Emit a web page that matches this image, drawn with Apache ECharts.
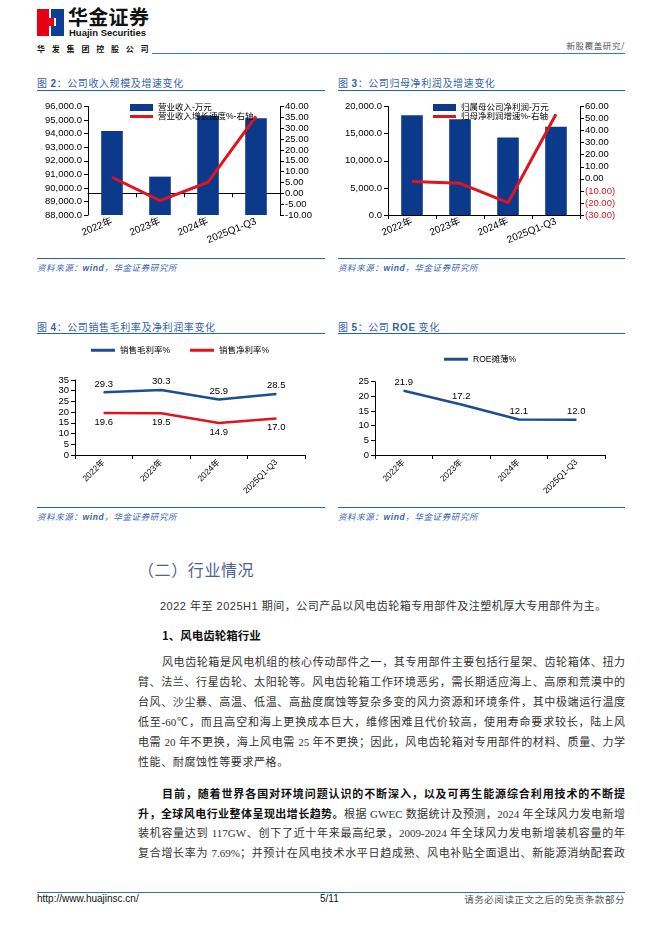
<!DOCTYPE html>
<html><head><meta charset="utf-8">
<script src="https://cdn.jsdelivr.net/npm/echarts@6/dist/echarts.min.js"></script>
<style>
body{margin:0;background:#fff;}
#page{position:relative;width:662px;height:936px;overflow:hidden;background:#fff;font-family:"Liberation Sans","Noto Sans CJK SC",sans-serif;}
.abs{position:absolute;white-space:nowrap;}
.ctitle{position:absolute;font-size:10px;line-height:12px;color:#3563a8;white-space:nowrap;font-family:"Noto Sans CJK SC",sans-serif;letter-spacing:0.6px;}
.ctitle b{font-family:"Liberation Sans",sans-serif;font-weight:bold;}
.rule{position:absolute;height:0;border-top:1px solid #2463ad;}
.src{position:absolute;font-size:8.5px;line-height:10px;color:#3b64b0;font-style:italic;white-space:nowrap;letter-spacing:0.6px;font-family:"Noto Sans CJK SC",sans-serif;}
.src i{font-family:"Liberation Sans",sans-serif;font-weight:bold;}
.ln{position:absolute;left:138px;width:487px;font-size:11px;line-height:14px;color:#333;font-family:"Liberation Serif","Noto Sans CJK SC",serif;}
.j{text-align:justify;text-align-last:justify;}
.b{font-weight:bold;color:#111;font-family:"Noto Sans CJK SC",sans-serif;}
.chart{position:absolute;}
</style></head>
<body>
<div id="page">
  <!-- header -->
  <svg class="abs" style="left:37px;top:9px" width="27" height="27" viewBox="0 0 27 27">
    <rect x="0" y="0" width="12" height="27" fill="#e60012"/>
    <rect x="14" y="0" width="13" height="27" fill="#0b3f94"/>
    <rect x="12" y="9" width="5" height="8" fill="#e60012"/>
    <rect x="17" y="9" width="2" height="8" fill="#ffffff"/>
  </svg>
  <div class="abs" style="left:68px;top:6px;font:bold 20px/22px 'Noto Sans CJK SC',sans-serif;color:#111;letter-spacing:0.3px">华金证券</div>
  <div class="abs" style="left:69px;top:28px;font:bold 9.5px/10px 'Liberation Sans',sans-serif;color:#111">Huajin Securities</div>
  <div class="abs" style="left:37px;top:44px;font:bold 8px/10px 'Noto Sans CJK SC',sans-serif;color:#111;letter-spacing:6.8px">华发集团控股公司</div>
  <div class="abs" style="right:37px;top:40px;font:8.5px/10px 'Noto Sans CJK SC',sans-serif;color:#555;letter-spacing:0.6px">新股覆盖研究/</div>
  <div class="rule" style="left:152px;top:53px;width:473px;border-top-color:#3a78b8"></div>

  <!-- chart titles row 1 -->
  <div class="ctitle" style="left:37px;top:77px">图 <b>2</b>：公司收入规模及增速变化</div>
  <div class="rule" style="left:37px;top:90px;width:288px"></div>
  <div class="ctitle" style="left:338px;top:77px">图 <b>3</b>：公司归母净利润及增速变化</div>
  <div class="rule" style="left:338px;top:90px;width:287px"></div>
  <div id="c1" class="chart" style="left:30px;top:92px;width:300px;height:165px"></div>
  <div id="c2" class="chart" style="left:330px;top:92px;width:300px;height:165px"></div>
  <div class="rule" style="left:37px;top:258px;width:288px"></div>
  <div class="src" style="left:37px;top:262px">资料来源：<i>wind</i>，华金证券研究所</div>
  <div class="rule" style="left:338px;top:258px;width:287px"></div>
  <div class="src" style="left:338px;top:262px">资料来源：<i>wind</i>，华金证券研究所</div>

  <!-- chart titles row 2 -->
  <div class="ctitle" style="left:37px;top:321px">图 <b>4</b>：公司销售毛利率及净利润率变化</div>
  <div class="rule" style="left:37px;top:333px;width:288px"></div>
  <div class="ctitle" style="left:338px;top:321px">图 <b>5</b>：公司 <b>ROE</b> 变化</div>
  <div class="rule" style="left:338px;top:333px;width:287px"></div>
  <div id="c3" class="chart" style="left:30px;top:337px;width:300px;height:170px"></div>
  <div id="c4" class="chart" style="left:330px;top:337px;width:300px;height:170px"></div>
  <div class="rule" style="left:37px;top:507px;width:288px"></div>
  <div class="src" style="left:37px;top:511px">资料来源：<i>wind</i>，华金证券研究所</div>
  <div class="rule" style="left:338px;top:507px;width:287px"></div>
  <div class="src" style="left:338px;top:511px">资料来源：<i>wind</i>，华金证券研究所</div>

  <!-- body text -->
  <div class="abs" style="left:138px;top:559px;font:16px/20px 'Noto Sans CJK SC',sans-serif;color:#4e6195;letter-spacing:0.6px">（二）行业情况</div>
  <div class="ln" style="left:160px;top:599px;width:460px;font-family:'Liberation Sans','Noto Sans CJK SC',sans-serif;letter-spacing:0.5px">2022 年至 2025H1 期间，公司产品以风电齿轮箱专用部件及注塑机厚大专用部件为主。</div>
  <div class="ln b" style="left:162px;top:628px;font-size:11.5px">1、风电齿轮箱行业</div>

  <div class="ln j" style="top:655px;text-indent:24px">风电齿轮箱是风电机组的核心传动部件之一，其专用部件主要包括行星架、齿轮箱体、扭力</div>
  <div class="ln j" style="top:675px">臂、法兰、行星齿轮、太阳轮等。风电齿轮箱工作环境恶劣，需长期适应海上、高原和荒漠中的</div>
  <div class="ln j" style="top:695px">台风、沙尘暴、高温、低温、高盐度腐蚀等复杂多变的风力资源和环境条件，其中极端运行温度</div>
  <div class="ln j" style="top:715px">低至-60℃，而且高空和海上更换成本巨大，维修困难且代价较高，使用寿命要求较长，陆上风</div>
  <div class="ln j" style="top:735px">电需 20 年不更换，海上风电需 25 年不更换；因此，风电齿轮箱对专用部件的材料、质量、力学</div>
  <div class="ln" style="top:755px;letter-spacing:0.6px">性能、耐腐蚀性等要求严格。</div>

  <div class="ln j b" style="top:786px;text-indent:24px">目前，随着世界各国对环境问题认识的不断深入，以及可再生能源综合利用技术的不断提</div>
  <div class="ln j" style="top:806px"><span class="b">升，全球风电行业整体呈现出增长趋势。</span>根据 GWEC 数据统计及预测，2024 年全球风力发电新增</div>
  <div class="ln j" style="top:826px">装机容量达到 117GW、创下了近十年来最高纪录，2009-2024 年全球风力发电新增装机容量的年</div>
  <div class="ln j" style="top:846px">复合增长率为 7.69%；并预计在风电技术水平日趋成熟、风电补贴全面退出、新能源消纳配套政</div>

  <!-- footer -->
  <div class="rule" style="left:37px;top:892px;width:588px;border-top-color:#2a6fb0"></div>
  <div class="abs" style="left:37px;top:893px;font:10px/12px 'Liberation Sans',sans-serif;color:#111">http://www.huajinsc.cn/</div>
  <div class="abs" style="left:320px;top:893px;font:10px/12px 'Liberation Sans',sans-serif;color:#111">5/11</div>
  <div class="abs" style="right:37px;top:893px;font:9.5px/12px 'Noto Sans CJK SC',sans-serif;color:#555;letter-spacing:0.55px">请务必阅读正文之后的免责条款部分</div>
</div>

<script>
// ---------------- data ----------------
const categories = ['2022年', '2023年', '2024年', '2025Q1-Q3'];
const revenue = [94200, 90830, 95310, 95140];          // 营业收入-万元
const revenueGrowth = [7.4, -3.4, 5.1, 35.4];          // 营业收入增长速度%
const netProfit = [18400, 17660, 14280, 16250];        // 归属母公司净利润-万元
const netProfitGrowth = [-2.3, -3.7, -19.8, 53.6];     // 归母净利润增速%
const grossMargin = [29.3, 30.3, 25.9, 28.5];          // 销售毛利率%
const netMargin = [19.6, 19.5, 14.9, 17.0];            // 销售净利率%
const roe = [21.9, 17.2, 12.1, 12.0];                  // ROE摊薄%

const FONT = "'Liberation Sans','Noto Sans CJK SC',sans-serif";
const BLUE_BAR = '#0b3a8c';
const RED = '#e0141e';
const BLUE_LINE = '#1f4e8c';

const axisLine = { show: true, lineStyle: { color: '#000', width: 1 } };
const axisTick = { show: true, length: 4, lineStyle: { color: '#000', width: 1 } };

function fmtThousands(v) {
  return v.toLocaleString('en-US', { minimumFractionDigits: 1, maximumFractionDigits: 1 });
}

function barLineOption(cfg) {
  return {
    animation: false,
    textStyle: { fontFamily: FONT },
    grid: { left: 58, top: 14.5, width: 192, height: 108.5 },
    legend: [
      { data: [cfg.barName], left: cfg.legendLeft, top: 5, orient: 'vertical', icon: 'rect',
        itemWidth: 23, itemHeight: 7, textStyle: { fontSize: 8.5, lineHeight: 11, color: '#000', fontFamily: FONT } },
      { data: [cfg.lineName], left: cfg.legendLeft, top: 14, orient: 'vertical', icon: 'rect',
        itemWidth: 23, itemHeight: 3, textStyle: { fontSize: 8.5, lineHeight: 11, color: '#000', fontFamily: FONT } }
    ],
    xAxis: {
      type: 'category', data: categories,
      axisLine: axisLine, axisTick: axisTick,
      axisLabel: { rotate: 22, fontSize: 10, color: '#000', margin: 6, interval: 0, fontFamily: FONT }
    },
    yAxis: [
      { type: 'value', min: cfg.lMin, max: cfg.lMax, interval: cfg.lInt, startValue: cfg.lMin,
        axisLine: axisLine, axisTick: axisTick, splitLine: { show: false },
        axisLabel: { fontSize: 9.5, color: '#000', margin: 6, formatter: fmtThousands, fontFamily: FONT } },
      { type: 'value', min: cfg.rMin, max: cfg.rMax, interval: cfg.rInt, position: 'right',
        axisLine: axisLine, axisTick: axisTick, splitLine: { show: false },
        axisLabel: { fontSize: 9.5, color: '#000', margin: 5, formatter: cfg.rFmt, rich: cfg.rRich, fontFamily: FONT } }
    ],
    series: [
      { name: cfg.barName, type: 'bar', data: cfg.barData, barWidth: '45%', clip: true,
        itemStyle: { color: BLUE_BAR } },
      { name: cfg.lineName, type: 'line', yAxisIndex: 1, data: cfg.lineData, symbol: 'none',
        lineStyle: { color: RED, width: 3 }, itemStyle: { color: RED } }
    ]
  };
}

const c1 = echarts.init(document.getElementById('c1'));
c1.setOption(barLineOption({
  barName: '营业收入-万元', lineName: '营业收入增长速度%-右轴', legendLeft: 95,
  barData: revenue, lineData: revenueGrowth,
  lMin: 88000, lMax: 96000, lInt: 1000,
  rMin: -10, rMax: 40, rInt: 5,
  rFmt: v => v.toFixed(2)
}));

const c2 = echarts.init(document.getElementById('c2'));
c2.setOption(barLineOption({
  barName: '归属母公司净利润-万元', lineName: '归母净利润增速%-右轴', legendLeft: 98,
  barData: netProfit, lineData: netProfitGrowth,
  lMin: 0, lMax: 20000, lInt: 5000,
  rMin: -30, rMax: 60, rInt: 10,
  rFmt: v => v < 0 ? '{n|(' + (-v).toFixed(2) + ')}' : v.toFixed(2),
  rRich: { n: { color: RED, fontSize: 9.5, fontFamily: FONT } }
}));

function lineOption(cfg) {
  return {
    animation: false,
    textStyle: { fontFamily: FONT },
    grid: { left: 45, top: cfg.gridTop, width: 230, height: cfg.gridHeight },
    legend: {
      data: cfg.series.map(s => s.name), left: 'center', top: cfg.legendTop, icon: 'rect',
      itemWidth: 24, itemHeight: 3, itemGap: 20,
      textStyle: { fontSize: 8.5, color: '#000', fontFamily: FONT }
    },
    xAxis: {
      type: 'category', data: categories,
      axisLine: axisLine, axisTick: axisTick,
      axisLabel: { rotate: 45, fontSize: 8.5, color: '#000', margin: 6, interval: 0, fontFamily: FONT }
    },
    yAxis: {
      type: 'value', min: 0, max: cfg.yMax, interval: 5,
      axisLine: axisLine, axisTick: axisTick, splitLine: { show: false },
      axisLabel: { fontSize: 9.5, color: '#000', margin: 6, fontFamily: FONT }
    },
    series: cfg.series.map(s => ({
      name: s.name, type: 'line', data: s.data, symbol: 'circle', symbolSize: 1,
      lineStyle: { color: s.color, width: 2.5 }, itemStyle: { color: s.color },
      label: { show: true, position: s.pos, distance: s.dist, fontSize: 9.5, color: '#000',
        fontFamily: FONT, formatter: p => Number(p.value).toFixed(1) }
    }))
  };
}

const c3 = echarts.init(document.getElementById('c3'));
c3.setOption(lineOption({
  gridTop: 43, gridHeight: 75, legendTop: 4, yMax: 35,
  series: [
    { name: '销售毛利率%', data: grossMargin, color: BLUE_LINE, pos: 'top', dist: 3 },
    { name: '销售净利率%', data: netMargin, color: RED, pos: 'bottom', dist: 4 }
  ]
}));

const c4 = echarts.init(document.getElementById('c4'));
c4.setOption(lineOption({
  gridTop: 44.7, gridHeight: 73.3, legendTop: 13, yMax: 25,
  series: [
    { name: 'ROE摊薄%', data: roe, color: BLUE_LINE, pos: 'top', dist: 3 }
  ]
}));
</script>
</body></html>
